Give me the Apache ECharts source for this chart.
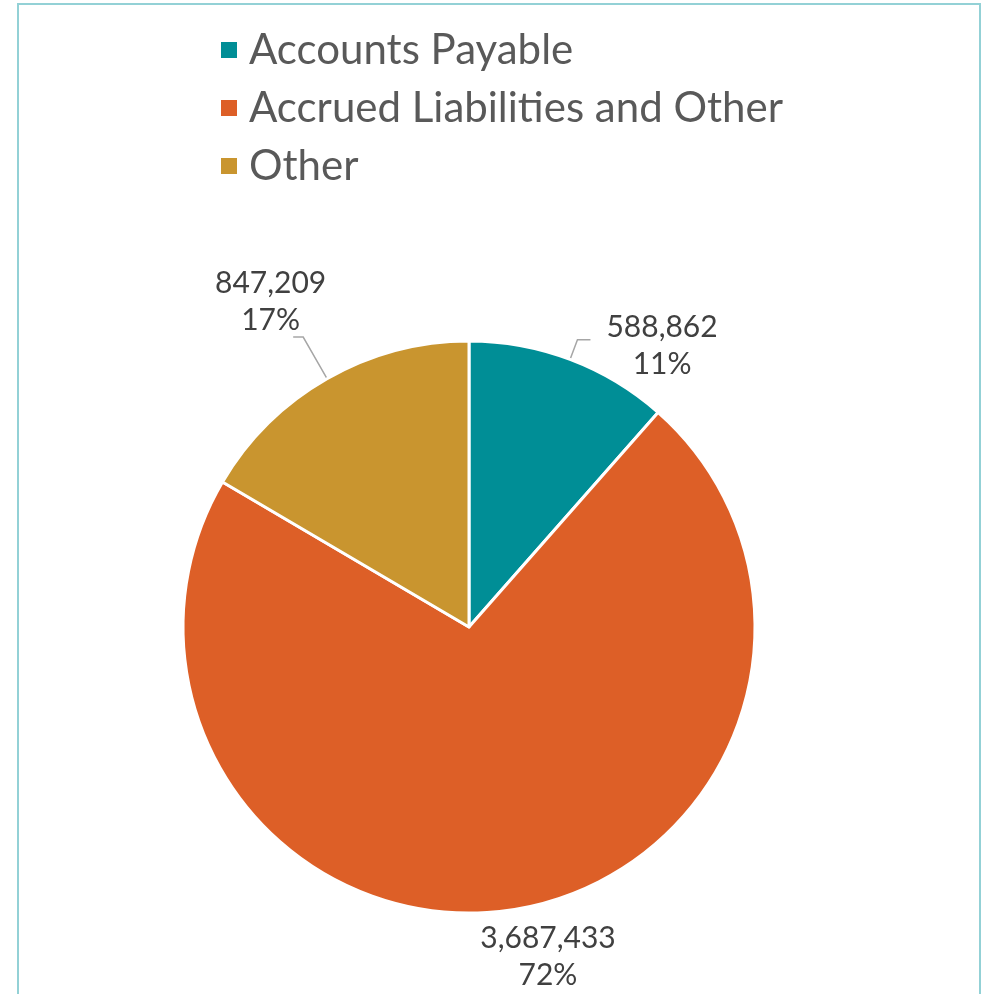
<!DOCTYPE html>
<html>
<head>
<meta charset="utf-8">
<script src="https://cdn.jsdelivr.net/npm/echarts@6/dist/echarts.min.js"></script>
<style>
  html, body { margin: 0; padding: 0; background: #fff; }
  #chart { width: 985px; height: 994px; }
</style>
</head>
<body>
<div id="chart"></div>
<script>
// 负债构成饼图
const categories = ['Accounts Payable', 'Accrued Liabilities and Other', 'Other']
const values = [588862, 3687433, 847209]
const colors = ['#008e96', '#dd5f27', '#c9952f']

// 标签微调（引线长度 / 文字与引线的距离 / 纵向偏移）
const lineLen = [21, 20, 48]
const lineLen2 = [13, 12, 10]
const labelGap = [16, -49, -33]
const labelDy = [6, 28, -35]

const chart = echarts.init(document.getElementById('chart'))

const pieData = categories.map((name, i) => ({
  name,
  value: values[i],
  itemStyle: { color: colors[i] },
  label: { distanceToLabelLine: labelGap[i] },
  labelLine: { show: i !== 1, length: lineLen[i], length2: lineLen2[i] },
}))

chart.setOption({
  animation: false,
  textStyle: { fontFamily: 'Lato' },
  graphic: [
    {
      type: 'rect',
      shape: { x: 18, y: 4, width: 962, height: 1010 },
      style: { fill: 'none', stroke: '#93d1d6', lineWidth: 2 },
      silent: true,
    },
  ],
  legend: {
    orient: 'vertical',
    left: 214,
    top: 24,
    icon: 'rect',
    itemWidth: 18,
    itemHeight: 18,
    itemGap: 16,
    textStyle: { fontFamily: 'Lato', fontSize: 42, color: '#595959', padding: [0, 0, 0, 6] },
    data: categories,
  },
  series: [
    {
      type: 'pie',
      center: [469, 627],
      radius: 286,
      startAngle: 90,
      clockwise: true,
      itemStyle: { borderColor: '#fff', borderWidth: 3 },
      label: {
        show: true,
        position: 'outside',
        fontFamily: 'Lato',
        fontSize: 30,
        color: '#404040',
        formatter: (p) =>
          `{a|${p.value.toLocaleString('en-US')}}\n{a|${Math.round(p.percent)}%}`,
        rich: {
          a: { fontFamily: 'Lato', fontSize: 30, color: '#404040', lineHeight: 37, align: 'center' },
        },
      },
      labelLine: {
        show: true,
        lineStyle: { color: '#a6a6a6', width: 1.5 },
      },
      labelLayout: (params) => ({ dy: labelDy[params.dataIndex] }),
      data: pieData,
    },
  ],
})
</script>
</body>
</html>
